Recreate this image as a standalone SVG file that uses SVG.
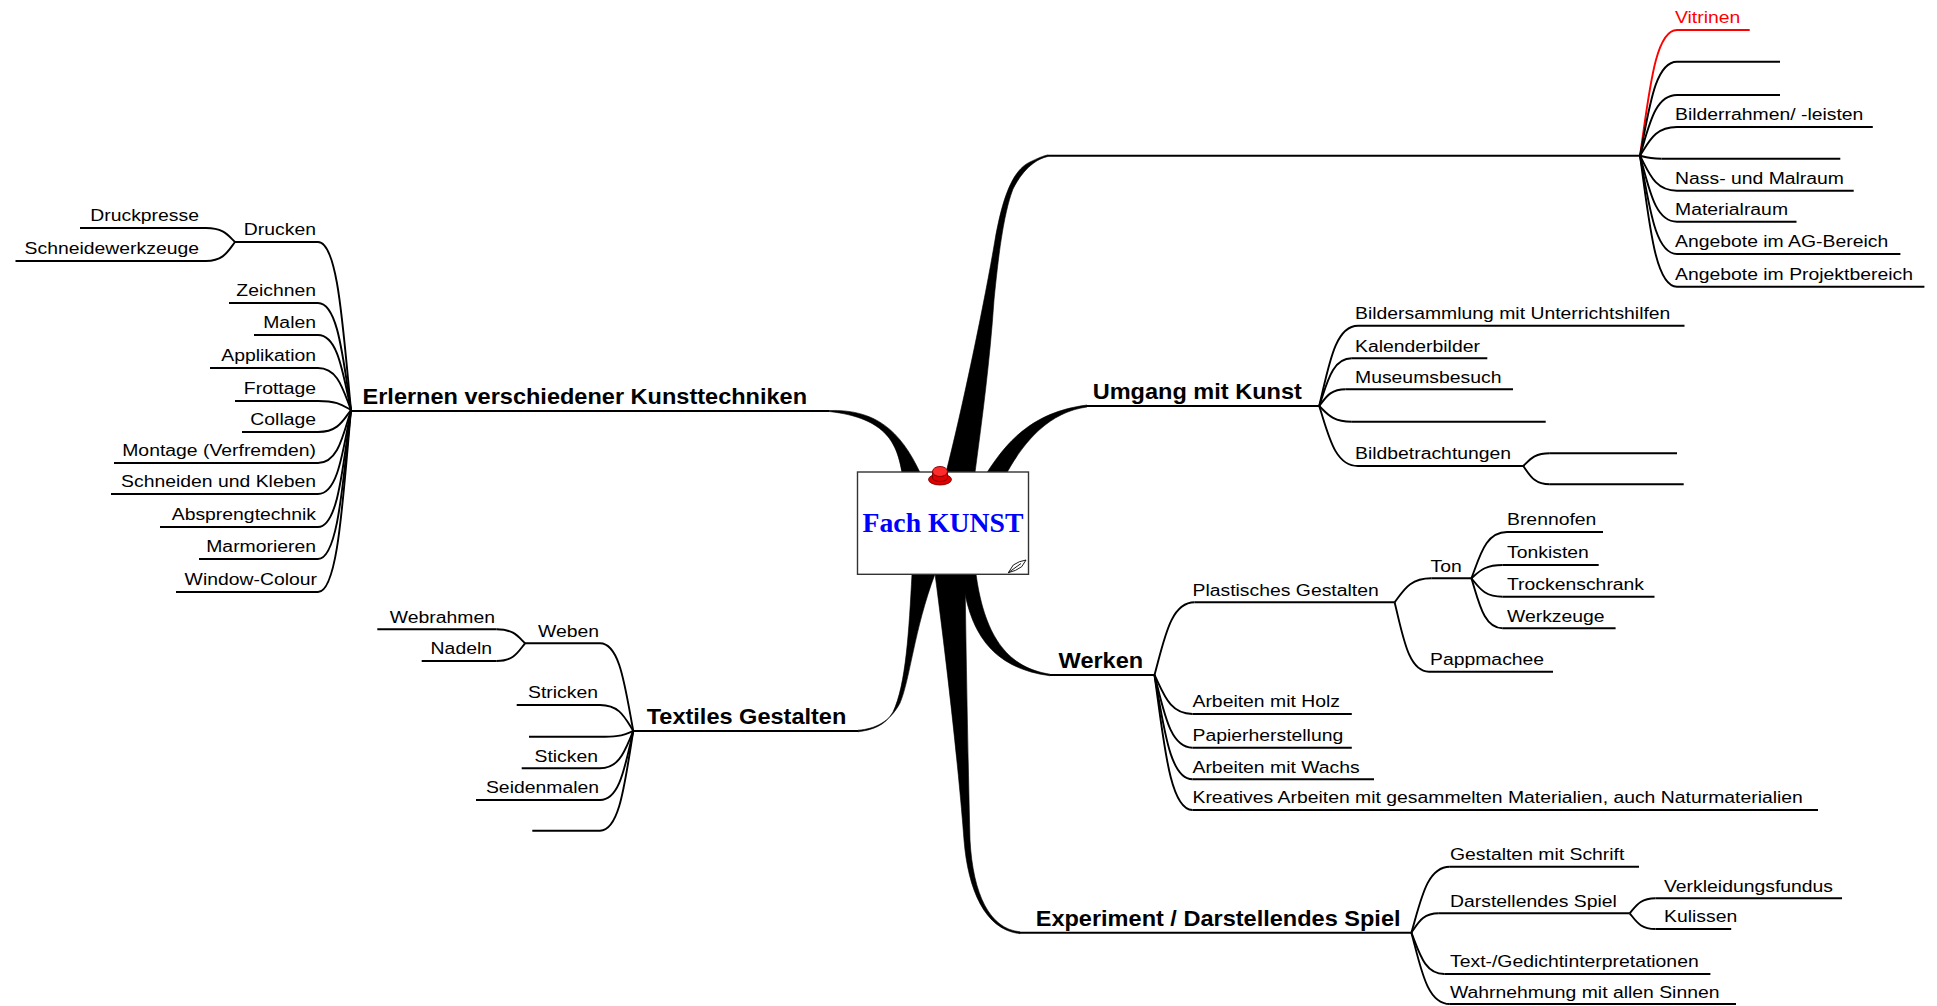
<svg xmlns="http://www.w3.org/2000/svg" width="1937" height="1006" viewBox="0 0 1937 1006">
<style>
.t{font-family:"Liberation Sans",Arial,sans-serif;font-size:17.3px;fill:#000}
.b{font-family:"Liberation Sans",Arial,sans-serif;font-size:21.8px;font-weight:bold;fill:#000}
.e{text-anchor:end}
.u{stroke:#000;stroke-width:1.9;fill:none}
.c{stroke:#000;stroke-width:1.9;fill:none}
.f{fill:#000;stroke:#000;stroke-width:0.6}
.red{fill:#f00}
.ur{stroke:#f00;stroke-width:1.9;fill:none}
</style>
<rect width="1937" height="1006" fill="#fff"/>
<g id="connectors">
<!-- tapered main branches -->
<path class="f" d="M829,410.5 C875,409 900,430 920,472.5 L902,472.5 C897,445 888,418 829,411.5 Z"/>
<path class="f" d="M946,472.5 C962,410 985,300 995,240 C1002,200 1012,170 1030,162 C1038,158 1044,155.6 1048,154.9 L1048,156.5 C1038,158.5 1024,167 1013,189 C1003,215 998,260 994,300 C990,360 982,420 975,472.5 Z"/>
<path class="f" d="M987,472.5 C1005,445 1030,412 1087,405 L1087,407 C1050,412 1025,440 1007,472.5 Z"/>
<path class="f" d="M912,574 C909,630 906,685 893,712 C885,726 872,730 858,731.8 L858,730.2 C875,729 890,722 900,703 C910,680 914,630 935,574 Z"/>
<path class="f" d="M935,574 C945,650 958,760 964,840 C968,890 985,930 1020,933.7 L1020,931.8 C990,929 973,895 970,840 C968,760 966,650 965,574 Z"/>
<path class="f" d="M962,574 C968,630 990,668 1050,675.8 L1050,674.2 C1010,668 985,640 976,574 Z"/>
<!-- Erlernen children -->
<path class="c" d="M318,242 C337.8,242 342.75,326 351,410"/>
<path class="c" d="M318,303 C337.8,303 342.75,356.5 351,410"/>
<path class="c" d="M318,335 C337.8,335 342.75,372.5 351,410"/>
<path class="c" d="M318,368 C337.8,368 342.75,389 351,410"/>
<path class="c" d="M318,401 C337.8,401 342.75,405.5 351,410"/>
<path class="c" d="M318,432 C337.8,432 342.75,421 351,410"/>
<path class="c" d="M318,463 C337.8,463 342.75,436.5 351,410"/>
<path class="c" d="M318,494 C337.8,494 342.75,452 351,410"/>
<path class="c" d="M318,527 C337.8,527 342.75,468.5 351,410"/>
<path class="c" d="M318,559 C337.8,559 342.75,484.5 351,410"/>
<path class="c" d="M318,592 C337.8,592 342.75,501 351,410"/>
<path class="c" d="M206,228 C223.4,228 227.75,235 235,242"/>
<path class="c" d="M206,261 C223.4,261 227.75,251.5 235,242"/>
<!-- Textiles children -->
<path class="c" d="M600,643.3 C620,643.3 625,687.2 633.3,731"/>
<path class="c" d="M600,705 C620,705 625,718 633.3,731"/>
<path class="c" d="M605,736.7 C622,736.7 626.2,733.85 633.3,731"/>
<path class="c" d="M600,768.3 C620,768.3 625,749.65 633.3,731"/>
<path class="c" d="M600,800 C620,800 625,765.5 633.3,731"/>
<path class="c" d="M600,830.7 C620,830.7 625,780.85 633.3,731"/>
<path class="c" d="M496.7,629.3 C513.7,629.3 517.9,636.3 525,643.3"/>
<path class="c" d="M496.7,661 C513.7,661 517.9,652.15 525,643.3"/>
<!-- top right children -->
<path class="ur" d="M1677,30 C1654.8,30 1649.25,92.85 1640,155.7"/>
<path class="c" d="M1677,61.7 C1654.8,61.7 1649.25,108.7 1640,155.7"/>
<path class="c" d="M1677,95 C1654.8,95 1649.25,125.35 1640,155.7"/>
<path class="c" d="M1677,127 C1654.8,127 1649.25,141.35 1640,155.7"/>
<path class="c" d="M1661.6,158.7 C1648.6,158.7 1645.4,157.2 1640,155.7"/>
<path class="c" d="M1677,190.7 C1654.8,190.7 1649.25,173.2 1640,155.7"/>
<path class="c" d="M1677,221.7 C1654.8,221.7 1649.25,188.7 1640,155.7"/>
<path class="c" d="M1677,254 C1654.8,254 1649.25,204.85 1640,155.7"/>
<path class="c" d="M1677,286.7 C1654.8,286.7 1649.25,221.2 1640,155.7"/>
<!-- Umgang children -->
<path class="c" d="M1358,325.7 C1334.7,325.7 1328.9,365.85 1319.2,406"/>
<path class="c" d="M1351.8,358.3 C1332.2,358.3 1327.35,382.15 1319.2,406"/>
<path class="c" d="M1345.7,389.3 C1329.8,389.3 1325.8,397.65 1319.2,406"/>
<path class="c" d="M1351.8,421.7 C1332.2,421.7 1327.35,413.85 1319.2,406"/>
<path class="c" d="M1358,466 C1334.7,466 1328.9,436 1319.2,406"/>
<path class="c" d="M1549.8,453.3 C1533.9,453.3 1529.9,459.65 1523.3,466"/>
<path class="c" d="M1549.8,484.3 C1533.9,484.3 1529.9,475.15 1523.3,466"/>
<!-- Werken children -->
<path class="c" d="M1194.6,602.3 C1170.5,602.3 1164.5,638.65 1154.5,675"/>
<path class="c" d="M1192.4,714 C1169.7,714 1164,694.5 1154.5,675"/>
<path class="c" d="M1192.4,747.7 C1169.7,747.7 1164,711.35 1154.5,675"/>
<path class="c" d="M1192.4,779.3 C1169.7,779.3 1164,727.15 1154.5,675"/>
<path class="c" d="M1192.4,810 C1169.7,810 1164,742.5 1154.5,675"/>
<path class="c" d="M1431.3,578.3 C1409.3,578.3 1403.8,590.3 1394.6,602.3"/>
<path class="c" d="M1429,671.7 C1408.4,671.7 1403.2,637 1394.6,602.3"/>
<path class="c" d="M1507,532 C1485.6,532 1480.3,555.15 1471.4,578.3"/>
<path class="c" d="M1502.7,565 C1483.9,565 1479.2,571.65 1471.4,578.3"/>
<path class="c" d="M1502.7,596.7 C1483.9,596.7 1479.2,587.5 1471.4,578.3"/>
<path class="c" d="M1502.7,628.3 C1483.9,628.3 1479.2,603.3 1471.4,578.3"/>
<!-- Experiment children -->
<path class="c" d="M1449.8,866.7 C1426.8,866.7 1421,899.7 1411.4,932.7"/>
<path class="c" d="M1438.8,913.3 C1422.4,913.3 1418.25,923 1411.4,932.7"/>
<path class="c" d="M1444.3,974 C1424.6,974 1419.6,953.35 1411.4,932.7"/>
<path class="c" d="M1449.8,1004 C1426.8,1004 1421,968.35 1411.4,932.7"/>
<path class="c" d="M1655.5,898.3 C1640,898.3 1636.15,905.8 1629.7,913.3"/>
<path class="c" d="M1655.5,929 C1640,929 1636.15,921.15 1629.7,913.3"/>
</g>

<g id="center">
<rect x="857.5" y="472" width="171" height="102.3" fill="#fff" stroke="#333" stroke-width="1.4"/>
<text x="943" y="531.5" text-anchor="middle" font-family="'Liberation Serif','Times New Roman',serif" font-weight="bold" font-size="27.7" fill="#0000ff">Fach KUNST</text>
<path d="M1008.3,572.7 L1013.3,565 Q1019,561 1026,560 L1021.7,566.7 Q1016,571 1008.3,572.7 Z M1008.3,572.7 L1021,563.5" fill="#fff" stroke="#000" stroke-width="0.9"/>
<g id="pin">
<ellipse cx="940" cy="479.5" rx="11.5" ry="5.5" fill="#e00000" stroke="#700" stroke-width="0.9"/>
<path d="M932.5,471.5 V478 A7.5,3.5 0 0 0 947.5,478 V471.5 Z" fill="#e00000" stroke="#700" stroke-width="0.9"/>
<ellipse cx="940" cy="471.5" rx="7.5" ry="5" fill="#ff2a2a" stroke="#700" stroke-width="0.9"/>
</g>
</g>

<!-- Left main: Erlernen -->
<g id="n-erlernen"><line class="u" x1="351" y1="411" x2="829" y2="411"/><text class="b" transform="translate(362.5,404) scale(1.08,1)">Erlernen verschiedener Kunsttechniken</text></g>
<g id="n-drucken"><line class="u" x1="235" y1="242" x2="318" y2="242"/><text class="t e" transform="translate(316,235.3) scale(1.12,1)">Drucken</text></g>
<g id="n-druckpresse"><line class="u" x1="80" y1="228" x2="206" y2="228"/><text class="t e" transform="translate(199,221.3) scale(1.12,1)">Druckpresse</text></g>
<g id="n-schneidewerkzeuge"><line class="u" x1="15.5" y1="261" x2="206" y2="261"/><text class="t e" transform="translate(199,254.3) scale(1.12,1)">Schneidewerkzeuge</text></g>
<g id="n-zeichnen"><line class="u" x1="229" y1="303" x2="318" y2="303"/><text class="t e" transform="translate(316,296.3) scale(1.12,1)">Zeichnen</text></g>
<g id="n-malen"><line class="u" x1="254" y1="335" x2="318" y2="335"/><text class="t e" transform="translate(316,328.3) scale(1.12,1)">Malen</text></g>
<g id="n-applikation"><line class="u" x1="210" y1="368" x2="318" y2="368"/><text class="t e" transform="translate(316,361.3) scale(1.12,1)">Applikation</text></g>
<g id="n-frottage"><line class="u" x1="235" y1="401" x2="318" y2="401"/><text class="t e" transform="translate(316,394.3) scale(1.12,1)">Frottage</text></g>
<g id="n-collage"><line class="u" x1="242" y1="432" x2="318" y2="432"/><text class="t e" transform="translate(316,425.3) scale(1.12,1)">Collage</text></g>
<g id="n-montage"><line class="u" x1="114" y1="463" x2="318" y2="463"/><text class="t e" transform="translate(316,456.3) scale(1.12,1)">Montage (Verfremden)</text></g>
<g id="n-schneiden"><line class="u" x1="111" y1="494" x2="318" y2="494"/><text class="t e" transform="translate(316,487.3) scale(1.12,1)">Schneiden und Kleben</text></g>
<g id="n-absprengtechnik"><line class="u" x1="160" y1="527" x2="318" y2="527"/><text class="t e" transform="translate(316,520.3) scale(1.12,1)">Absprengtechnik</text></g>
<g id="n-marmorieren"><line class="u" x1="199" y1="559" x2="318" y2="559"/><text class="t e" transform="translate(316,552.3) scale(1.12,1)">Marmorieren</text></g>
<g id="n-window"><line class="u" x1="176" y1="592" x2="318" y2="592"/><text class="t e" transform="translate(317,585.3) scale(1.12,1)">Window-Colour</text></g>

<!-- Textiles -->
<g id="n-textiles"><line class="u" x1="633.3" y1="731" x2="858" y2="731"/><text class="b" transform="translate(646.7,724.3) scale(1.08,1)">Textiles Gestalten</text></g>
<g id="n-weben"><line class="u" x1="525" y1="643.3" x2="600" y2="643.3"/><text class="t e" transform="translate(599,636.6) scale(1.12,1)">Weben</text></g>
<g id="n-webrahmen"><line class="u" x1="377.3" y1="629.3" x2="496.7" y2="629.3"/><text class="t e" transform="translate(495,622.6) scale(1.12,1)">Webrahmen</text></g>
<g id="n-nadeln"><line class="u" x1="421.7" y1="661" x2="496.7" y2="661"/><text class="t e" transform="translate(492,654.3) scale(1.12,1)">Nadeln</text></g>
<g id="n-stricken"><line class="u" x1="516.7" y1="705" x2="600" y2="705"/><text class="t e" transform="translate(598,698.3) scale(1.12,1)">Stricken</text></g>
<g id="n-textil-leer1"><line class="u" x1="529" y1="736.7" x2="605" y2="736.7"/></g>
<g id="n-sticken"><line class="u" x1="521.7" y1="768.3" x2="600" y2="768.3"/><text class="t e" transform="translate(598,761.6) scale(1.12,1)">Sticken</text></g>
<g id="n-seidenmalen"><line class="u" x1="476" y1="800" x2="600" y2="800"/><text class="t e" transform="translate(599,793.3) scale(1.12,1)">Seidenmalen</text></g>
<g id="n-textil-leer2"><line class="u" x1="532.3" y1="830.7" x2="600" y2="830.7"/></g>

<!-- Top right unnamed main branch -->
<g id="n-raeume"><line class="u" x1="1048" y1="155.7" x2="1640" y2="155.7"/></g>
<g id="n-vitrinen"><line class="ur" x1="1677" y1="30" x2="1749.7" y2="30"/><text class="t red" transform="translate(1675,23.3) scale(1.12,1)">Vitrinen</text></g>
<g id="n-raum-leer1"><line class="u" x1="1677" y1="61.7" x2="1780" y2="61.7"/></g>
<g id="n-raum-leer2"><line class="u" x1="1677" y1="95" x2="1780" y2="95"/></g>
<g id="n-bilderrahmen"><line class="u" x1="1677" y1="127" x2="1872.8" y2="127"/><text class="t" transform="translate(1675,120.3) scale(1.12,1)">Bilderrahmen/ -leisten</text></g>
<g id="n-raum-leer3"><line class="u" x1="1661.6" y1="158.7" x2="1840.3" y2="158.7"/></g>
<g id="n-nassraum"><line class="u" x1="1677" y1="190.7" x2="1853.7" y2="190.7"/><text class="t" transform="translate(1675,184) scale(1.12,1)">Nass- und Malraum</text></g>
<g id="n-materialraum"><line class="u" x1="1677" y1="221.7" x2="1796.5" y2="221.7"/><text class="t" transform="translate(1675,215) scale(1.12,1)">Materialraum</text></g>
<g id="n-ag"><line class="u" x1="1677" y1="254" x2="1900.4" y2="254"/><text class="t" transform="translate(1675,247.3) scale(1.12,1)">Angebote im AG-Bereich</text></g>
<g id="n-projekt"><line class="u" x1="1677" y1="286.7" x2="1924.4" y2="286.7"/><text class="t" transform="translate(1675,280) scale(1.12,1)">Angebote im Projektbereich</text></g>

<!-- Umgang mit Kunst -->
<g id="n-umgang"><line class="u" x1="1087" y1="406" x2="1319.2" y2="406"/><text class="b" transform="translate(1092.7,399.3) scale(1.08,1)">Umgang mit Kunst</text></g>
<g id="n-bildersammlung"><line class="u" x1="1358" y1="325.7" x2="1684.5" y2="325.7"/><text class="t" transform="translate(1355,319) scale(1.12,1)">Bildersammlung mit Unterrichtshilfen</text></g>
<g id="n-kalender"><line class="u" x1="1351.8" y1="358.3" x2="1487.3" y2="358.3"/><text class="t" transform="translate(1355,351.6) scale(1.12,1)">Kalenderbilder</text></g>
<g id="n-museum"><line class="u" x1="1345.7" y1="389.3" x2="1513" y2="389.3"/><text class="t" transform="translate(1355,382.6) scale(1.12,1)">Museumsbesuch</text></g>
<g id="n-umgang-leer"><line class="u" x1="1351.8" y1="421.7" x2="1545.7" y2="421.7"/></g>
<g id="n-bildbetrachtungen"><line class="u" x1="1358" y1="466" x2="1523.3" y2="466"/><text class="t" transform="translate(1355,459.3) scale(1.12,1)">Bildbetrachtungen</text></g>
<g id="n-bild-leer1"><line class="u" x1="1549.8" y1="453.3" x2="1677" y2="453.3"/></g>
<g id="n-bild-leer2"><line class="u" x1="1549.8" y1="484.3" x2="1683.7" y2="484.3"/></g>

<!-- Werken -->
<g id="n-werken"><line class="u" x1="1050" y1="675" x2="1154.5" y2="675"/><text class="b" transform="translate(1058.6,668.3) scale(1.08,1)">Werken</text></g>
<g id="n-plastisches"><line class="u" x1="1194.6" y1="602.3" x2="1394.6" y2="602.3"/><text class="t" transform="translate(1192.5,595.6) scale(1.12,1)">Plastisches Gestalten</text></g>
<g id="n-ton"><line class="u" x1="1431.3" y1="578.3" x2="1471.4" y2="578.3"/><text class="t" transform="translate(1430.5,571.6) scale(1.12,1)">Ton</text></g>
<g id="n-brennofen"><line class="u" x1="1507" y1="532" x2="1603" y2="532"/><text class="t" transform="translate(1507,525.3) scale(1.12,1)">Brennofen</text></g>
<g id="n-tonkisten"><line class="u" x1="1502.7" y1="565" x2="1598.7" y2="565"/><text class="t" transform="translate(1507,558.3) scale(1.12,1)">Tonkisten</text></g>
<g id="n-trockenschrank"><line class="u" x1="1502.7" y1="596.7" x2="1654.5" y2="596.7"/><text class="t" transform="translate(1507,590) scale(1.12,1)">Trockenschrank</text></g>
<g id="n-werkzeuge"><line class="u" x1="1502.7" y1="628.3" x2="1615.6" y2="628.3"/><text class="t" transform="translate(1507,621.6) scale(1.12,1)">Werkzeuge</text></g>
<g id="n-pappmachee"><line class="u" x1="1429" y1="671.7" x2="1553" y2="671.7"/><text class="t" transform="translate(1430,665) scale(1.12,1)">Pappmachee</text></g>
<g id="n-holz"><line class="u" x1="1192.4" y1="714" x2="1351.8" y2="714"/><text class="t" transform="translate(1192.5,707.3) scale(1.12,1)">Arbeiten mit Holz</text></g>
<g id="n-papier"><line class="u" x1="1192.4" y1="747.7" x2="1351.8" y2="747.7"/><text class="t" transform="translate(1192.5,741) scale(1.12,1)">Papierherstellung</text></g>
<g id="n-wachs"><line class="u" x1="1192.4" y1="779.3" x2="1374" y2="779.3"/><text class="t" transform="translate(1192.5,772.6) scale(1.12,1)">Arbeiten mit Wachs</text></g>
<g id="n-kreatives"><line class="u" x1="1192.4" y1="810" x2="1818" y2="810"/><text class="t" transform="translate(1192.5,803.3) scale(1.12,1)">Kreatives Arbeiten mit gesammelten Materialien, auch Naturmaterialien</text></g>

<!-- Experiment -->
<g id="n-experiment"><line class="u" x1="1020" y1="932.7" x2="1411.4" y2="932.7"/><text class="b" transform="translate(1035.7,926) scale(1.08,1)">Experiment / Darstellendes Spiel</text></g>
<g id="n-schrift"><line class="u" x1="1449.8" y1="866.7" x2="1639" y2="866.7"/><text class="t" transform="translate(1450,860) scale(1.12,1)">Gestalten mit Schrift</text></g>
<g id="n-darstellendes"><line class="u" x1="1438.8" y1="913.3" x2="1629.7" y2="913.3"/><text class="t" transform="translate(1450,906.6) scale(1.12,1)">Darstellendes Spiel</text></g>
<g id="n-verkleidung"><line class="u" x1="1655.5" y1="898.3" x2="1842" y2="898.3"/><text class="t" transform="translate(1664,891.6) scale(1.12,1)">Verkleidungsfundus</text></g>
<g id="n-kulissen"><line class="u" x1="1655.5" y1="929" x2="1731.2" y2="929"/><text class="t" transform="translate(1664,922.3) scale(1.12,1)">Kulissen</text></g>
<g id="n-gedicht"><line class="u" x1="1444.3" y1="974" x2="1710.4" y2="974"/><text class="t" transform="translate(1450,967.3) scale(1.12,1)">Text-/Gedichtinterpretationen</text></g>
<g id="n-sinne"><line class="u" x1="1449.8" y1="1004" x2="1736" y2="1004"/><text class="t" transform="translate(1450,997.5) scale(1.12,1)">Wahrnehmung mit allen Sinnen</text></g>
</svg>
